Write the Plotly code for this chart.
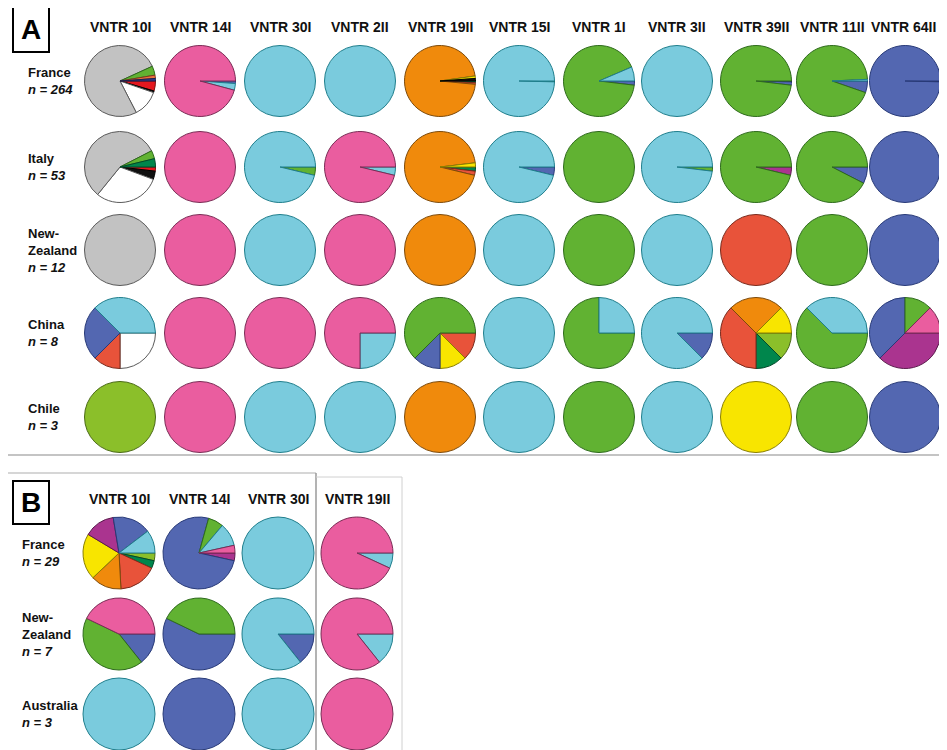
import plotly.graph_objects as go

W, H = 947, 750
# the page body keeps its 8px margin, so the figure is drawn 8px in from the window edge
OX, OY = 8, 8
FW, FH = W - OX, H - OY

# ---- data: slices listed counterclockwise from 3 o'clock, (allele colour, isolates)
loci_a = ["VNTR 10I", "VNTR 14I", "VNTR 30I", "VNTR 2II", "VNTR 19II", "VNTR 15I",
          "VNTR 1I", "VNTR 3II", "VNTR 39II", "VNTR 11II", "VNTR 64II"]
countries_a = ["France", "Italy", "New-<br>Zealand", "China", "Chile"]
n_a = [264, 53, 12, 8, 3]

france_a = [
    [("navy", 3), ("salmon", 4), ("green", 11), ("grey", 200), ("white", 32), ("black", 2), ("brightred", 12)],
    [("pink", 253), ("lightblue", 8), ("blue", 3)],
    [("lightblue", 264)],
    [("lightblue", 264)],
    [("black", 3), ("yellow", 3), ("orange", 254), ("red", 2), ("darkgreen", 2)],
    [("lightblue", 263), ("darkgreen", 1)],
    [("lightblue", 17), ("green", 242), ("blue", 5)],
    [("lightblue", 264)],
    [("green", 259), ("blue", 4), ("black", 1)],
    [("lightblue", 2), ("green", 248), ("blue", 14)],
    [("blue", 263), ("black", 1)],
]
italy_a = [
    [("darkgreen", 2), ("green", 2), ("grey", 30), ("white", 16), ("black", 2), ("brightred", 1)],
    [("pink", 53)],
    [("lightblue", 51), ("green", 2)],
    [("pink", 51), ("lightblue", 2)],
    [("yellow", 1), ("orange", 50), ("red", 1), ("darkgreen", 1)],
    [("lightblue", 51), ("blue", 2)],
    [("green", 53)],
    [("lightblue", 52), ("green", 1)],
    [("green", 51), ("purple", 2)],
    [("green", 49), ("blue", 4)],
    [("blue", 53)],
]
nz_a = [[("grey", 12)], [("pink", 12)], [("lightblue", 12)], [("pink", 12)], [("orange", 12)],
        [("lightblue", 12)], [("green", 12)], [("lightblue", 12)], [("red", 12)],
        [("green", 12)], [("blue", 12)]]
china_a = [
    [("lightblue", 3), ("blue", 2), ("red", 1), ("white", 2)],
    [("pink", 8)],
    [("pink", 8)],
    [("pink", 6), ("lightblue", 2)],
    [("green", 5), ("blue", 1), ("yellow", 1), ("red", 1)],
    [("lightblue", 8)],
    [("lightblue", 2), ("green", 6)],
    [("lightblue", 7), ("blue", 1)],
    [("yellow", 1), ("orange", 2), ("red", 3), ("darkgreen", 1), ("lime", 1)],
    [("lightblue", 3), ("green", 5)],
    [("pink", 1), ("green", 1), ("blue", 3), ("purple", 3)],
]
chile_a = [[("lime", 3)], [("pink", 3)], [("lightblue", 3)], [("lightblue", 3)], [("orange", 3)],
           [("lightblue", 3)], [("green", 3)], [("lightblue", 3)], [("yellow", 3)],
           [("green", 3)], [("blue", 3)]]

loci_b = ["VNTR 10I", "VNTR 14I", "VNTR 30I", "VNTR 19II"]
countries_b = ["France", "New-<br>Zealand", "Australia"]
n_b = [29, 7, 3]

france_b = [
    [("lightblue", 3), ("blue", 5), ("purple", 4), ("yellow", 6), ("orange", 4), ("red", 5), ("darkgreen", 1), ("lime", 1)],
    [("pink", 1), ("lightblue", 3), ("green", 2), ("blue", 22), ("purple", 1)],
    [("lightblue", 29)],
    [("pink", 27), ("lightblue", 2)],
]
nz_b = [
    [("pink", 3), ("green", 3), ("blue", 1)],
    [("green", 3), ("blue", 4)],
    [("lightblue", 6), ("blue", 1)],
    [("pink", 6), ("lightblue", 1)],
]
australia_b = [[("lightblue", 3)], [("blue", 3)], [("lightblue", 3)], [("pink", 3)]]

# ---- styles
fill = {
    "grey": "#C2C2C2", "pink": "#EA5D9F", "lightblue": "#7ACBDD", "orange": "#F08A0C",
    "green": "#61B232", "blue": "#5367B1", "red": "#E8533A", "brightred": "#E4171F",
    "salmon": "#EE703E", "navy": "#2E3A8C", "yellow": "#F8E500", "lime": "#8BBF2A",
    "darkgreen": "#00864C", "purple": "#AA348F", "white": "#FFFFFF", "black": "#111111",
}
edge = {
    "grey": "#5A5A5A", "pink": "#7A2C55", "lightblue": "#1F7E8C", "orange": "#7D4A0A",
    "green": "#2E6B1C", "blue": "#283A78", "red": "#7A2A1C", "brightred": "#7A1010",
    "salmon": "#7A3A1C", "navy": "#1A2050", "yellow": "#8A7F00", "lime": "#4A6A15",
    "darkgreen": "#004A2A", "purple": "#5A1A4C", "white": "#5A5A5A", "black": "#000000",
}

FONT = "Liberation Sans, Arial, sans-serif"

# pixel layout of the two grids (window pixels)
cols_a = [120, 200, 280, 360, 440, 519, 599, 677, 756, 832, 905]
rows_a_y = [81, 167, 250, 333, 417]
r_a = 35.5
cols_b = [119, 199, 278, 357]
rows_b_y = [553, 634, 714]
r_b = 36


def px(x):
    return (x - OX) / FW


def py(y):
    return 1 - (y - OY) / FH


fig = go.Figure()


def add_pie(cx, cy, r, slices):
    # plotly's clockwise mode starts the first slice at the rotation angle,
    # so feed the counterclockwise list reversed
    slices = slices[::-1]
    keys = [k for k, _ in slices]
    fig.add_trace(go.Pie(
        values=[v for _, v in slices],
        labels=[f"{k}{i}" for i, k in enumerate(keys)],
        marker=dict(colors=[fill[k] for k in keys],
                    line=dict(color=[edge[k] for k in keys], width=1)),
        sort=False, direction="clockwise", rotation=90,
        textinfo="none", hoverinfo="value", showlegend=False,
        domain=dict(x=[px(cx - r), px(cx + r)], y=[py(cy + r), py(cy - r)]),
    ))


annotations = []


def add_panel(loci, countries, ns, rows, cols, rows_y, r, head_y, label_x):
    for j, locus in enumerate(loci):
        annotations.append(dict(text=f"<b>{locus}</b>", x=px(min(cols[j], 903)), y=py(head_y),
                                xanchor="center", yanchor="middle", showarrow=False,
                                font=dict(size=14, color="#111", family=FONT)))
    for i, (name, n, row) in enumerate(zip(countries, ns, rows)):
        annotations.append(dict(text=f"<b>{name}</b><br><b><i>n = {n}</i></b>",
                                x=px(label_x), y=py(rows_y[i]), xanchor="left", yanchor="middle",
                                align="left", showarrow=False,
                                font=dict(size=13, color="#111", family=FONT)))
        for j, slices in enumerate(row):
            add_pie(cols[j], rows_y[i], r, slices)


add_panel(loci_a, countries_a, n_a, [france_a, italy_a, nz_a, china_a, chile_a],
          cols_a, rows_a_y, r_a, 27, 26)
add_panel(loci_b, countries_b, n_b, [france_b, nz_b, australia_b],
          cols_b, rows_b_y, r_b, 499, 20)

# panel letters
for letter, (x0, y0, x1, y1) in [("A", (13, 7, 49, 52)), ("B", (13, 481, 49, 524))]:
    annotations.append(dict(text=f"<b>{letter}</b>", x=px((x0 + x1) / 2), y=py((y0 + y1) / 2),
                            xanchor="center", yanchor="middle", showarrow=False,
                            font=dict(size=28, color="#000", family=FONT)))

shapes = [
    dict(type="rect", xref="paper", yref="paper", x0=px(13), x1=px(49), y0=py(52), y1=py(7),
         line=dict(color="#000", width=2)),
    dict(type="rect", xref="paper", yref="paper", x0=px(13), x1=px(49), y0=py(524), y1=py(481),
         line=dict(color="#000", width=2)),
    dict(type="line", xref="paper", yref="paper", x0=px(0), x1=px(W), y0=py(455), y1=py(455),
         line=dict(color="#B0B0B0", width=1.5)),
    dict(type="line", xref="paper", yref="paper", x0=px(5), x1=px(316), y0=py(473), y1=py(473),
         line=dict(color="#C8C8C8", width=1.5)),
    dict(type="line", xref="paper", yref="paper", x0=px(316), x1=px(316), y0=py(H), y1=py(473),
         line=dict(color="#9A9A9A", width=1.5)),
    dict(type="line", xref="paper", yref="paper", x0=px(316), x1=px(402), y0=py(477), y1=py(477),
         line=dict(color="#D0D0D0", width=1)),
    dict(type="line", xref="paper", yref="paper", x0=px(402), x1=px(402), y0=py(H), y1=py(477),
         line=dict(color="#D0D0D0", width=1)),
]

fig.update_layout(
    width=FW, height=FH,
    margin=dict(l=0, r=0, t=0, b=0),
    plot_bgcolor="white", paper_bgcolor="white",
    annotations=annotations, shapes=shapes,
)

fig.write_html("out.html")
